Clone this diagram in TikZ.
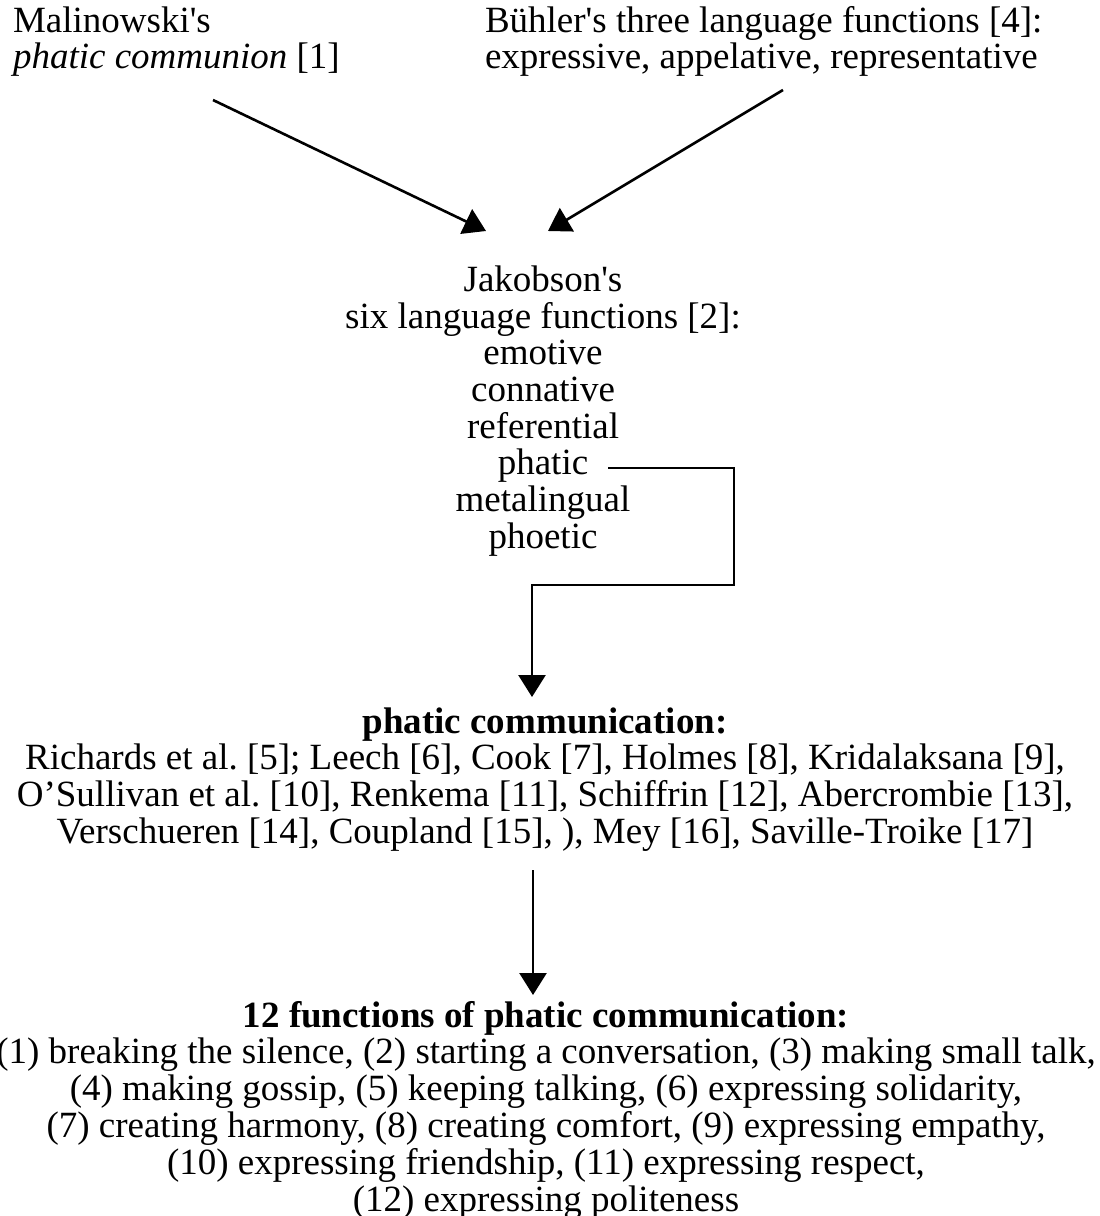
\documentclass[tikz,border=0pt]{standalone}
\usepackage{fontspec}
\setmainfont{Liberation Serif}[Ligatures=TeXOff]
\usetikzlibrary{arrows.meta}
\frenchspacing
\tikzset{
  txt/.style={inner sep=0pt, outer sep=0pt, font=\fontsize{37}{36.6}\selectfont},
  arr/.style={line width=2.6pt, -{Triangle[length=22pt,width=27pt]}},
  conn/.style={line width=2.6pt}
}
\begin{document}
\begin{tikzpicture}[x=1pt,y=-1pt]
\useasboundingbox (0,0) rectangle (1100,1216);
\node[txt, anchor=base west] (mal) at (13,32)
  {\begin{tabular}[t]{@{}l@{}}Malinowski's\\ \textit{phatic communion} [1]\end{tabular}};
\node[txt, anchor=base west] (buh) at (485,32)
  {\begin{tabular}[t]{@{}l@{}}Bühler's three language functions [4]:\\ expressive, appelative, representative\end{tabular}};
\node[txt, anchor=base] (jak) at (543,291)
  {\begin{tabular}[t]{@{}c@{}}Jakobson's\\ six language functions [2]:\\ emotive\\ connative\\ referential\\ phatic\\ metalingual\\ phoetic\end{tabular}};
\node[txt, anchor=base] (pc) at (545,733)
  {\begin{tabular}[t]{@{}c@{}}\textbf{phatic communication:}\\
  Richards et al. [5]; Leech [6], Cook [7], Holmes [8], Kridalaksana [9],\\
  O’Sullivan et al. [10], Renkema [11], Schiffrin [12], Abercrombie [13],\\
  Verschueren [14], Coupland [15], ), Mey [16], Saville-Troike [17]\end{tabular}};
\node[txt, anchor=base] (fn) at (546,1027)
  {\begin{tabular}[t]{@{}c@{}}\textbf{12 functions of phatic communication:}\\
  (1) breaking the silence, (2) starting a conversation, (3) making small talk,\\
  (4) making gossip, (5) keeping talking, (6) expressing solidarity,\\
  (7) creating harmony, (8) creating comfort, (9) expressing empathy,\\
  (10) expressing friendship, (11) expressing respect,\\
  (12) expressing politeness\end{tabular}};
\coordinate (malout) at (213,100);
\coordinate (buhout) at (783,90);
\coordinate (jakinl) at (486,231);
\coordinate (jakinr) at (548,231);
\coordinate (phout) at (608,468);
\coordinate (bendr) at (734,585);
\coordinate (pcin) at (532,697);
\coordinate (pcout) at (533,870);
\coordinate (fnin) at (533,995);
\draw[arr] (malout) -- (jakinl);
\draw[arr] (buhout) -- (jakinr);
\draw[arr] (phout) -| (bendr) -| (pcin);
\draw[arr] (pcout) -- (fnin);
\end{tikzpicture}
\end{document}
